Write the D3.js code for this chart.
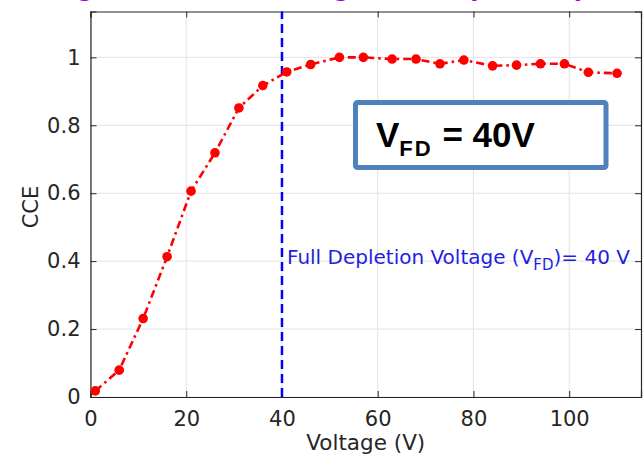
<!DOCTYPE html>
<html><head><meta charset="utf-8">
<script src="https://cdn.jsdelivr.net/npm/d3@7"></script>
<style>body{margin:0;background:#fff;} svg{display:block;}</style>
</head><body>
<svg id="c" width="644" height="457"></svg>
<script>
const voltage = [1, 6, 11, 16, 21, 26, 31, 36, 41, 46, 52, 57, 63, 68, 73, 78, 84, 89, 94, 99, 104, 110];
const cce = [0.018, 0.079, 0.231, 0.413, 0.606, 0.719, 0.851, 0.917, 0.957, 0.979, 1.0, 1.0, 0.995, 0.995, 0.981, 0.992, 0.975, 0.977, 0.981, 0.981, 0.956, 0.953];
const xTicks = [0, 20, 40, 60, 80, 100];
const yTicks = [0, 0.2, 0.4, 0.6, 0.8, 1];
const vfd = 40;

const svg = d3.select("#c");
const m = {l: 90.5, t: 11.5, r: 3, b: 60};
const W = 644, H = 457;
const x = d3.scaleLinear().domain([0, 115]).range([m.l, W - m.r]);
const y = d3.scaleLinear().domain([0, 1.135]).range([H - m.b, m.t]);
const axc = "#262626";

// title (mostly cropped at top edge, as in the reference)
svg.append("text").attr("x", 60).attr("y", -4).attr("fill", "#b000e0")
  .attr("font-family", "DejaVu Sans").attr("font-size", 24).attr("font-weight", "bold")
  .text("ng CCE vs bias voltage: full depletion plateau");

// grid
const g = svg.append("g");
g.selectAll(".gx").data(xTicks).join("line")
  .attr("x1", d => x(d)).attr("x2", d => x(d)).attr("y1", y(0)).attr("y2", m.t)
  .attr("stroke", "#e3e3e3").attr("stroke-width", 1);
g.selectAll(".gy").data(yTicks).join("line")
  .attr("y1", d => y(d)).attr("y2", d => y(d)).attr("x1", m.l).attr("x2", W - m.r)
  .attr("stroke", "#e3e3e3").attr("stroke-width", 1);

// axes
const fmt = d => d3.format("")(d);
const xa = svg.append("g").attr("transform", `translate(0,${y(0)})`)
  .call(d3.axisBottom(x).tickValues(xTicks).tickSize(-6).tickPadding(14).tickFormat(fmt));
const ya = svg.append("g").attr("transform", `translate(${m.l},0)`)
  .call(d3.axisLeft(y).tickValues(yTicks).tickSize(-6).tickPadding(10).tickFormat(fmt));
const xt = svg.append("g").attr("transform", `translate(0,${m.t})`)
  .call(d3.axisTop(x).tickValues(xTicks).tickSize(-6).tickFormat(""));
const yr = svg.append("g").attr("transform", `translate(${W - m.r},0)`)
  .call(d3.axisRight(y).tickValues(yTicks).tickSize(-6).tickFormat(""));
[xa, ya, xt, yr].forEach(a => {
  a.selectAll("path").attr("stroke", axc).attr("stroke-width", 1.2);
  a.selectAll("line").attr("stroke", axc).attr("stroke-width", 1);
  a.selectAll("text").attr("fill", axc).attr("font-family", "DejaVu Sans").attr("font-size", 21);
});

// axis labels
svg.append("text").attr("x", (m.l + W - m.r) / 2).attr("y", 450).attr("text-anchor", "middle")
  .attr("fill", axc).attr("font-family", "DejaVu Sans").attr("font-size", 21.5).text("Voltage (V)");
svg.append("text").attr("transform", `translate(38,207) rotate(-90)`)
  .attr("text-anchor", "middle").attr("fill", axc).attr("font-family", "DejaVu Sans")
  .attr("font-size", 21).text("CCE");

// vertical dashed line
svg.append("line").attr("x1", x(vfd)).attr("x2", x(vfd)).attr("y1", y(0)).attr("y2", m.t)
  .attr("stroke", "#0000ff").attr("stroke-width", 2.5).attr("stroke-dasharray", "9,5");

// annotation
const ann = svg.append("text").attr("x", x(vfd) + 5).attr("y", 264).attr("fill", "#1f1fe0")
  .attr("font-family", "DejaVu Sans").attr("font-size", 20);
ann.append("tspan").text("Full Depletion Voltage (V");
ann.append("tspan").attr("font-size", 15).attr("dy", 6).text("FD");
ann.append("tspan").attr("dy", -6).text(")= 40 V");

// data line
const line = d3.line().x((d, i) => x(voltage[i])).y(d => y(d));
svg.append("path").datum(cce).attr("d", line).attr("fill", "none")
  .attr("stroke", "#ff0000").attr("stroke-width", 2.6).attr("stroke-dasharray", "8,4,2.5,4");
svg.selectAll(".pt").data(cce).join("circle")
  .attr("cx", (d, i) => x(voltage[i])).attr("cy", d => y(d)).attr("r", 4.8).attr("fill", "#ff0000");

// box
svg.append("rect").attr("x", 355.5).attr("y", 102.5).attr("width", 250.5).attr("height", 65)
  .attr("rx", 2).attr("fill", "#fff").attr("stroke", "#4f81bd").attr("stroke-width", 5);
const bt = svg.append("text").attr("x", 376).attr("y", 147).attr("fill", "#000")
  .attr("font-family", "Liberation Sans").attr("font-weight", "bold").attr("font-size", 35);
bt.append("tspan").text("V");
bt.append("tspan").attr("font-size", 22).attr("letter-spacing", 2).attr("dy", 9).text("FD");
bt.append("tspan").attr("letter-spacing", 0).attr("dy", -9).text(" = 40V");
</script>
</body></html>
